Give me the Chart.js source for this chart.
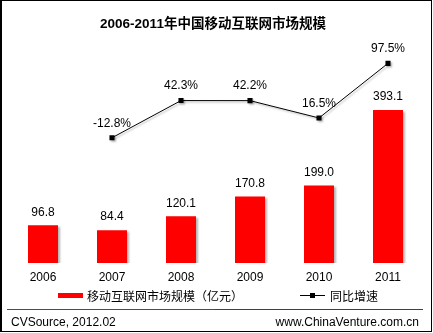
<!DOCTYPE html>
<html>
<head>
<meta charset="utf-8">
<script src="https://cdn.jsdelivr.net/npm/chart.js@4"></script>
<style>
  body { margin: 0; background: #fff; }
  #wrap { position: relative; width: 433px; height: 333px; font-family: "Liberation Sans", Arial, "Noto Sans CJK SC", sans-serif; }
  #frame { position: absolute; left: 0; top: 0; width: 429px; height: 330px; border: 1px solid #000; border-left-width: 2px; }
  canvas { position: absolute; left: 0; top: 0; }
  .t { position: absolute; white-space: nowrap; color: #000; }
  #title { left: 0; width: 426px; top: 15px; text-align: center; font-weight: bold; font-size: 13.5px; line-height: 18px; }
  #lg1box { position: absolute; left: 58px; top: 293px; width: 25px; height: 5px; background: #ff0000; }
  #lg1 { left: 87px; top: 288px; font-size: 12px; line-height: 16px; font-family: "Noto Sans CJK SC", sans-serif; }
  #lg2line { position: absolute; left: 300px; top: 295px; width: 25px; height: 1px; background: #000; }
  #lg2pt { position: absolute; left: 310px; top: 293px; width: 5px; height: 5px; background: #000; }
  #lg2 { left: 330px; top: 288px; font-size: 12px; line-height: 16px; font-family: "Noto Sans CJK SC", sans-serif; }
  #rule1 { position: absolute; left: 7px; top: 309px; width: 208px; height: 1px; background: #ff0000; }
  #rule2 { position: absolute; left: 215px; top: 309px; width: 208px; height: 1px; background: #404040; }
  #src { left: 11px; top: 314px; font-size: 12px; line-height: 16px; }
  #site { right: 14px; top: 314px; font-size: 12px; line-height: 16px; }
</style>
</head>
<body>
<div id="wrap">
  <canvas id="chart" width="433" height="333"></canvas>
  <div id="frame"></div>
  <div class="t" id="title">2006-2011年中国移动互联网市场规模</div>
  <div id="lg1box"></div>
  <div class="t" id="lg1">移动互联网市场规模（亿元）</div>
  <div id="lg2line"></div>
  <div id="lg2pt"></div>
  <div class="t" id="lg2">同比增速</div>
  <div id="rule1"></div>
  <div id="rule2"></div>
  <div class="t" id="src">CVSource, 2012.02</div>
  <div class="t" id="site">www.ChinaVenture.com.cn</div>
</div>
<script>
const years = ["2006", "2007", "2008", "2009", "2010", "2011"]
const marketSize = [96.8, 84.4, 120.1, 170.8, 199.0, 393.1]
const growthRate = [null, -12.8, 42.3, 42.2, 16.5, 97.5]

// value labels above bars and points
const valueLabels = {
  id: "valueLabels",
  afterDatasetsDraw(chart) {
    const ctx = chart.ctx
    ctx.save()
    ctx.font = "12px 'Liberation Sans', Arial, sans-serif"
    ctx.fillStyle = "#000"
    ctx.textAlign = "center"
    ctx.textBaseline = "middle"
    chart.data.datasets.forEach((ds, i) => {
      const meta = chart.getDatasetMeta(i)
      meta.data.forEach((el, j) => {
        const v = ds.data[j]
        if (v === null) return
        if (ds.type === "line") {
          ctx.fillText(v.toFixed(1) + "%", el.x, el.y - 14.5)
        } else {
          ctx.fillText(v.toFixed(1), el.x, el.y - 13)
        }
      })
    })
    ctx.restore()
  }
}

// soft shadow like the original
const shadow = {
  id: "shadow",
  beforeDatasetDraw(chart, args) {
    const ctx = chart.ctx
    ctx.save()
    ctx.shadowColor = "rgba(0,0,0,0.3)"
    ctx.shadowOffsetX = 1.5
    ctx.shadowOffsetY = 1.5
    ctx.shadowBlur = 2
  },
  afterDatasetDraw(chart) {
    chart.ctx.restore()
  }
}

new Chart(document.getElementById("chart"), {
  type: "bar",
  data: {
    labels: years,
    datasets: [
      {
        type: "line",
        label: "同比增速",
        data: growthRate,
        yAxisID: "y1",
        borderColor: "#000",
        borderWidth: 1,
        pointStyle: "rect",
        pointRadius: 3.6,
        pointBackgroundColor: "#000",
        pointBorderWidth: 0,
        tension: 0,
        order: 0,
      },
      {
        label: "移动互联网市场规模（亿元）",
        data: marketSize,
        backgroundColor: "#ff0000",
        barPercentage: 1,
        categoryPercentage: 30 / 69,
        order: 1,
      },
    ],
  },
  options: {
    responsive: false,
    animation: false,
    layout: { padding: { left: 8.5, right: 10.5, top: 40, bottom: 44 } },
    plugins: { legend: { display: false }, tooltip: { enabled: false } },
    scales: {
      x: {
        grid: { display: false, drawTicks: false },
        border: { display: false },
        ticks: { color: "#000", padding: 7, font: { family: "'Liberation Sans', Arial, sans-serif", size: 12 } },
        afterFit(scale) { scale.height = 26 },
      },
      y: { display: false, min: 0, max: 573 },
      y1: { display: false, min: -198.5, max: 132.1 },
    },
  },
  plugins: [shadow, valueLabels],
})
</script>
</body>
</html>
